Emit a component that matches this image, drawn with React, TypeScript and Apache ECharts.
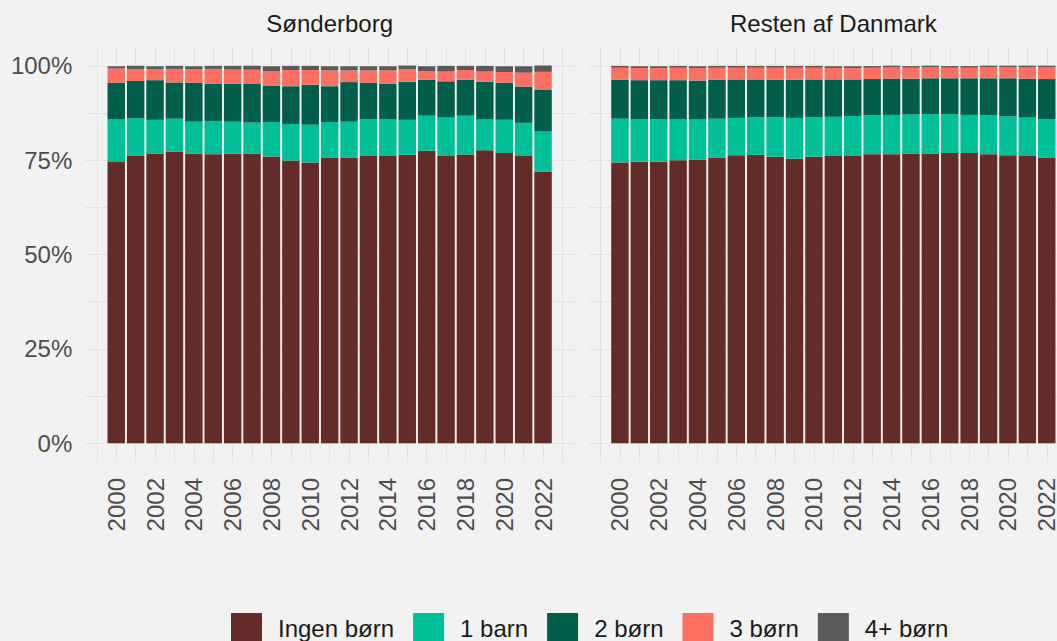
import React, { useEffect, useRef } from "react";
import * as echarts from "echarts";

const years = ["2000", "2001", "2002", "2003", "2004", "2005", "2006", "2007", "2008", "2009", "2010", "2011", "2012", "2013", "2014", "2015", "2016", "2017", "2018", "2019", "2020", "2021", "2022"];
const gridYears = [1999, 2000, 2001, 2002, 2003, 2004, 2005, 2006, 2007, 2008, 2009, 2010, 2011, 2012, 2013, 2014, 2015, 2016, 2017, 2018, 2019, 2020, 2021, 2022, 2023];
const labelYears = [2000, 2002, 2004, 2006, 2008, 2010, 2012, 2014, 2016, 2018, 2020, 2022];
const yGridValues = [0, 12.5, 25, 37.5, 50, 62.5, 75, 87.5, 100];
const yLabelValues = [0, 25, 50, 75, 100];

const categories = ["Ingen børn", "1 barn", "2 børn", "3 børn", "4+ børn"];
const colors = ["#642c28", "#00c09a", "#005e4a", "#ff6f61", "#5a5a5a"];
const panels = ["Sønderborg", "Resten af Danmark"];

// Sønderborg (percent)
const sbIngen = [74.5, 76.1, 76.8, 77.2, 76.7, 76.6, 76.7, 76.7, 76.0, 74.9, 74.4, 75.6, 75.6, 76.1, 76.1, 76.4, 77.5, 76.1, 76.5, 77.6, 76.9, 76.1, 72.0];
const sb1 = [11.3, 10.0, 8.9, 8.8, 8.5, 8.8, 8.5, 8.3, 9.1, 9.7, 10.0, 9.5, 9.6, 9.8, 9.8, 9.3, 9.3, 10.2, 10.3, 8.2, 8.8, 8.8, 10.6];
const sb2 = [9.7, 9.9, 10.5, 9.6, 10.3, 9.9, 10.1, 10.3, 9.7, 10.0, 10.6, 9.5, 10.5, 9.6, 9.4, 10.1, 9.5, 9.6, 9.5, 10.0, 9.8, 9.6, 11.0];
const sb3 = [3.8, 3.2, 2.9, 3.6, 3.6, 3.9, 3.7, 3.7, 3.8, 4.3, 3.9, 4.2, 3.1, 3.3, 3.5, 3.3, 2.3, 2.6, 2.6, 2.7, 2.9, 3.7, 4.8];
const sb4 = [0.6, 0.8, 0.8, 0.8, 0.8, 0.8, 1.0, 1.0, 1.3, 1.1, 1.1, 1.1, 1.1, 1.1, 1.1, 1.0, 1.3, 1.5, 1.1, 1.5, 1.5, 1.7, 1.7];

// Resten af Danmark (percent)
const rdIngen = [74.4, 74.6, 74.6, 75.0, 75.2, 75.7, 76.3, 76.4, 75.9, 75.4, 75.9, 76.1, 76.1, 76.6, 76.6, 76.8, 76.8, 76.9, 76.9, 76.6, 76.3, 76.1, 75.6];
const rd1 = [11.6, 11.3, 11.3, 10.9, 10.6, 10.3, 9.9, 10.0, 10.5, 10.8, 10.5, 10.4, 10.6, 10.3, 10.4, 10.3, 10.4, 10.3, 10.1, 10.3, 10.3, 10.2, 10.3];
const rd2 = [10.3, 10.3, 10.3, 10.3, 10.3, 10.3, 10.2, 10.0, 9.9, 10.1, 10.0, 9.9, 9.7, 9.6, 9.6, 9.5, 9.5, 9.5, 9.7, 9.8, 10.1, 10.3, 10.6];
const rd3 = [3.2, 3.2, 3.2, 3.3, 3.3, 3.2, 3.1, 3.1, 3.2, 3.2, 3.1, 3.0, 3.0, 3.0, 3.0, 2.9, 2.9, 2.8, 2.8, 2.9, 2.9, 3.0, 3.1];
const rd4 = [0.5, 0.5, 0.5, 0.5, 0.5, 0.5, 0.5, 0.5, 0.5, 0.5, 0.5, 0.5, 0.5, 0.45, 0.45, 0.45, 0.45, 0.45, 0.45, 0.45, 0.45, 0.45, 0.45];

const panelData = [
  [sbIngen, sb1, sb2, sb3, sb4],
  [rdIngen, rd1, rd2, rd3, rd4],
];

const FONT = "'Liberation Sans', Arial, sans-serif";
const GRID_COLOR = "#e2e2e2";

export default function App() {
  const ref = useRef<HTMLDivElement>(null);
  useEffect(() => {
    document.body.style.margin = "0";
    document.body.style.background = "#f2f2f2";
    const chart = echarts.init(ref.current as HTMLDivElement, null, { renderer: "svg" });
    const X_MIN = 1998.405;
    const X_MAX = 2023.595;
    const panelLefts = [85.3, 589];
    const panelWidth = 488.7;
    const step = panelWidth / (X_MAX - X_MIN);
    const TOP = 47;
    const HEIGHT = 415;
    const barLefts = panelLefts.map((l) => l + (2000 - 0.5 - X_MIN) * step);
    const barWidthPx = step * years.length;

    const grids: any[] = [];
    const xAxes: any[] = [];
    const yAxes: any[] = [];
    // background grids (gridlines + labels)
    panelLefts.forEach((l, i) => {
      grids.push({ left: l, top: TOP, width: panelWidth, height: HEIGHT, containLabel: false, outerBoundsMode: "none" });
      xAxes.push({
        type: "value",
        gridIndex: i,
        min: X_MIN,
        max: X_MAX,
        axisLine: { show: false },
        axisTick: { show: false, customValues: gridYears },
        axisLabel: {
          customValues: labelYears,
          rotate: 90,
          margin: 16,
          fontSize: 24,
          color: "#4d4d4d",
          fontFamily: FONT,
          hideOverlap: false,
          formatter: (v: number) => String(v),
        },
        splitLine: { show: true, lineStyle: { color: GRID_COLOR, width: 1 } },
      });
      yAxes.push({
        type: "value",
        gridIndex: i,
        min: -5,
        max: 105,
        axisLine: { show: false },
        axisTick: { show: false, customValues: yGridValues },
        axisLabel: {
          show: i === 0,
          customValues: yLabelValues,
          margin: 13,
          fontSize: 24,
          color: "#4d4d4d",
          fontFamily: FONT,
          formatter: (v: number) => v + "%",
        },
        splitLine: { show: true, lineStyle: { color: GRID_COLOR, width: 1 } },
      });
    });
    // bar grids
    barLefts.forEach((l, i) => {
      grids.push({ left: l, top: TOP, width: barWidthPx, height: HEIGHT, containLabel: false, outerBoundsMode: "none" });
      xAxes.push({
        type: "category",
        gridIndex: 2 + i,
        data: years,
        boundaryGap: true,
        show: false,
      });
      yAxes.push({
        type: "value",
        gridIndex: 2 + i,
        min: -5,
        max: 105,
        show: false,
        splitLine: { show: false },
      });
    });

    const series: any[] = [];
    panelData.forEach((arrs, p) => {
      arrs.forEach((vals, c) => {
        series.push({
          type: "bar",
          name: categories[c],
          xAxisIndex: 2 + p,
          yAxisIndex: 2 + p,
          stack: "p" + p,
          barWidth: step * 0.9,
          itemStyle: { color: colors[c] },
          emphasis: { disabled: true },
          data: vals,
        });
      });
    });

    const option: any = {
      animation: false,
      backgroundColor: "#f2f2f2",
      textStyle: { fontFamily: FONT },
      grid: grids,
      xAxis: xAxes,
      yAxis: yAxes,
      legend: {
        data: categories,
        left: 231,
        top: 613,
        padding: 0,
        itemWidth: 31,
        itemHeight: 31,
        itemGap: 19,
        icon: "rect",
        selectedMode: false,
        textStyle: { fontSize: 24, color: "#1a1a1a", fontFamily: FONT, padding: [0, 0, 0, 11] },
      },
      graphic: panels.map((t, i) => ({
        type: "text",
        x: panelLefts[i] + panelWidth / 2,
        y: 23.5,
        style: { text: t, textAlign: "center", textVerticalAlign: "middle", fontSize: 24, fill: "#1a1a1a", fontFamily: FONT },
      })),
      series,
    };
    chart.setOption(option);
    return () => chart.dispose();
  }, []);
  return <div ref={ref} style={{ width: 1057, height: 641 }} />;
}
